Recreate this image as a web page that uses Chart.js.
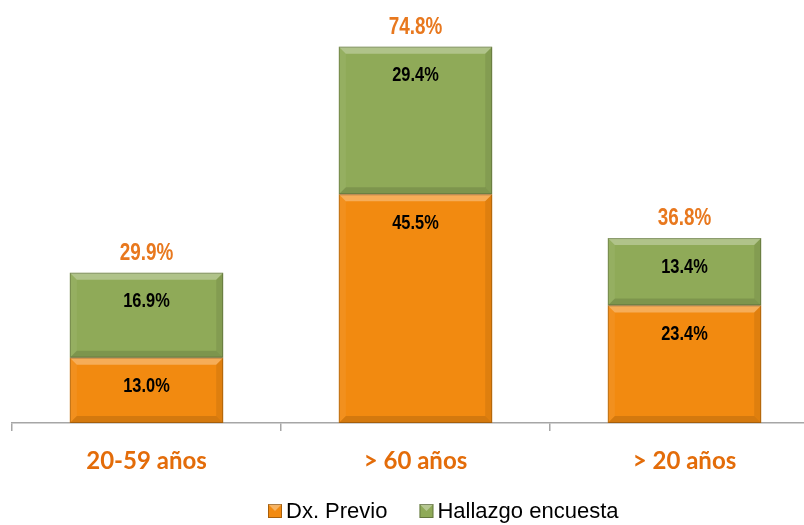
<!DOCTYPE html>
<html>
<head>
<meta charset="utf-8">
<script src="https://cdn.jsdelivr.net/npm/chart.js@4"></script>
<style>
  html, body { margin: 0; padding: 0; background: #fff; overflow: hidden; }
  #wrap { width: 830px; height: 525px; }
</style>
</head>
<body>
<div id="wrap"><canvas id="chart"></canvas></div>
<script>
// Data
const categories = ["20-59 años", "> 60 años", "> 20 años"];
const dxPrevio = [13.0, 45.5, 23.4];
const hallazgo = [16.9, 29.4, 13.4];
const totals = [29.9, 74.8, 36.8];
const seriesNames = ["Dx. Previo", "Hallazgo encuesta"];

const orange = "#F28A10";
const green = "#8FAA58";
const labelOrange = "#E8781E";

// narrow text: squeeze a regular font horizontally
function narrowText(ctx, text, x, y, sx) {
  ctx.save();
  ctx.translate(x, y);
  ctx.scale(sx, 1);
  ctx.fillText(text, 0, 0);
  ctx.restore();
}

// bevel look on the bars
const bevelPlugin = {
  id: "bevel",
  afterDatasetsDraw(chart) {
    const ctx = chart.ctx;
    chart.data.datasets.forEach((ds, i) => {
      chart.getDatasetMeta(i).data.forEach(bar => {
        const { x, y, base, width } = bar.getProps(["x", "y", "base", "width"], true);
        const l = x - width / 2, r = x + width / 2, t = Math.min(y, base), b = Math.max(y, base);
        const s = 7;
        const quad = (pts, col) => {
          ctx.beginPath();
          ctx.moveTo(pts[0][0], pts[0][1]);
          pts.slice(1).forEach(p => ctx.lineTo(p[0], p[1]));
          ctx.closePath();
          ctx.fillStyle = col;
          ctx.fill();
        };
        ctx.save();
        quad([[l, t], [r, t], [r - s, t + s], [l + s, t + s]], "rgba(255,255,255,0.3)");
        quad([[l, b], [r, b], [r - s, b - s], [l + s, b - s]], "rgba(0,0,0,0.12)");
        quad([[l, t], [l + s, t + s], [l + s, b - s], [l, b]], "rgba(255,255,255,0.06)");
        quad([[r, t], [r - s, t + s], [r - s, b - s], [r, b]], "rgba(0,0,0,0.08)");
        ctx.strokeStyle = "rgba(0,0,0,0.22)";
        ctx.lineWidth = 1;
        ctx.strokeRect(l + 0.5, t + 0.5, width - 1, b - t - 1);
        ctx.restore();
      });
    });
  }
};

// value labels inside segments and totals above, plus legend
const labelPlugin = {
  id: "labels",
  afterDraw(chart) {
    const ctx = chart.ctx;
    ctx.save();
    ctx.textAlign = "center";
    ctx.textBaseline = "middle";
    ctx.font = "bold 20px 'Liberation Sans', Arial, sans-serif";
    ctx.fillStyle = "#000";
    chart.data.datasets.forEach((ds, i) => {
      chart.getDatasetMeta(i).data.forEach((bar, j) => {
        narrowText(ctx, ds.data[j].toFixed(1) + "%", bar.x, bar.y + 29, 0.82);
      });
    });
    const top = chart.getDatasetMeta(1).data;
    ctx.font = "bold 23px 'Liberation Sans', Arial, sans-serif";
    ctx.fillStyle = labelOrange;
    totals.forEach((v, j) => {
      narrowText(ctx, v.toFixed(1) + "%", top[j].x, chart.scales.y.getPixelForValue(v) - 19, 0.82);
    });

    // legend
    ctx.font = "22px 'Liberation Sans', Arial, sans-serif";
    ctx.textAlign = "left";
    const colors = [orange, green];
    let lx = 268;
    const ly = 511;
    seriesNames.forEach((name, k) => {
      ctx.fillStyle = colors[k];
      ctx.fillRect(lx, ly - 7, 14, 14);
      ctx.fillStyle = "rgba(255,255,255,0.35)";
      ctx.beginPath();
      ctx.moveTo(lx, ly - 7); ctx.lineTo(lx + 14, ly - 7); ctx.lineTo(lx + 7, ly); ctx.closePath();
      ctx.fill();
      ctx.strokeStyle = "rgba(0,0,0,0.3)";
      ctx.strokeRect(lx + 0.5, ly - 6.5, 13, 13);
      ctx.fillStyle = "#000";
      ctx.fillText(name, lx + 18, ly + 1);
      lx += 18 + ctx.measureText(name).width + 32;
    });
    ctx.restore();
  }
};

new Chart(document.getElementById("chart"), {
  type: "bar",
  data: {
    labels: categories,
    datasets: [
      { label: seriesNames[0], data: dxPrevio, backgroundColor: orange },
      { label: seriesNames[1], data: hallazgo, backgroundColor: green }
    ]
  },
  options: {
    responsive: true,
    maintainAspectRatio: false,
    animation: false,
    layout: { padding: { left: 12, right: 11, top: 21, bottom: 0 } },
    datasets: { bar: { categoryPercentage: 1, barPercentage: 0.57 } },
    plugins: { legend: { display: false }, tooltip: { enabled: false } },
    scales: {
      x: {
        stacked: true,
        afterFit: (s) => { s.height = 102; },
        border: { display: true, color: "#A6A6A6", width: 1.5 },
        grid: { display: true, drawOnChartArea: false, tickLength: 8, color: "#A6A6A6", lineWidth: 1.5 },
        ticks: {
          color: "#E36C09",
          padding: 16,
          font: { family: "Lato, 'Liberation Sans', sans-serif", size: 24, weight: "bold" }
        }
      },
      y: {
        stacked: true,
        display: false,
        min: 0,
        max: 80
      }
    }
  },
  plugins: [bevelPlugin, labelPlugin]
});
</script>
</body>
</html>
